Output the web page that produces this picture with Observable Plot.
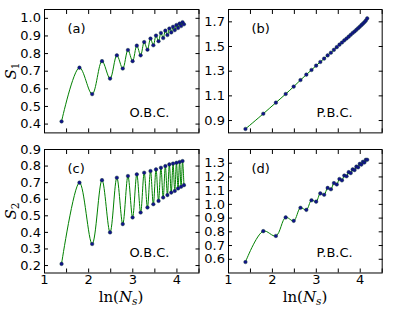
<!DOCTYPE html>
<html><head><meta charset="utf-8">
<script src="https://cdn.jsdelivr.net/npm/d3@7"></script>
<script src="https://cdn.jsdelivr.net/npm/@observablehq/plot@0.6"></script>
<style>
body{margin:0;background:#fff;}
#fig{position:relative;width:415px;height:312px;overflow:hidden;background:#fff;font-family:"DejaVu Sans",sans-serif;}
#fig svg{position:absolute;overflow:visible;}
.ylab{position:absolute;font-family:"DejaVu Serif",serif;font-size:15px;transform:translate(-50%,-50%) rotate(-90deg);white-space:nowrap;line-height:1;}
.xlab{position:absolute;font-family:"DejaVu Serif",serif;font-size:15px;transform:translate(-50%,-50%);white-space:nowrap;line-height:1;}
sub{font-size:70%;vertical-align:-0.25em;}
</style></head><body><div id="fig"></div>
<script>
// system sizes N_s (x axis is ln(N_s))
const Ns = [4,6,8,10,12,14,16,18,20,22,24,26,28,30,32,34,36,38,40,42,44,46,48,50,52,54,56,58,60,62,64];
// (a) S1, O.B.C.
const s1OBC = [0.415,0.720,0.570,0.757,0.658,0.790,0.715,0.820,0.757,0.845,0.790,0.865,0.822,0.885,0.847,0.902,0.870,0.917,0.888,0.930,0.905,0.942,0.920,0.952,0.933,0.962,0.945,0.970,0.956,0.978,0.966];
// (b) S1, P.B.C.
const s1PBC = [0.832,0.955,1.045,1.115,1.175,1.228,1.272,1.310,1.345,1.375,1.402,1.428,1.450,1.473,1.495,1.515,1.532,1.550,1.565,1.580,1.595,1.610,1.622,1.635,1.648,1.660,1.673,1.685,1.697,1.710,1.728];
// (c) S2, O.B.C.
const s2OBC = [0.210,0.700,0.330,0.715,0.400,0.730,0.450,0.740,0.490,0.750,0.520,0.760,0.550,0.770,0.570,0.780,0.590,0.790,0.610,0.800,0.625,0.810,0.640,0.815,0.650,0.820,0.665,0.825,0.675,0.830,0.685];
// (d) S2, P.B.C.
const s2PBC = [0.580,0.805,0.770,0.905,0.880,0.975,0.960,1.030,1.020,1.080,1.070,1.120,1.110,1.155,1.145,1.185,1.175,1.210,1.205,1.235,1.228,1.255,1.250,1.275,1.270,1.295,1.290,1.310,1.305,1.325,1.325];

const xTicks = [1,1.5,2,2.5,3,3.5,4,4.5];
const xTickLabels = [1,2,3,4];
const yTicksA = [0.4,0.5,0.6,0.7,0.8,0.9,1.0];
const yTicksB = [0.9,1.1,1.3,1.5,1.7];
const yTicksC = [0.2,0.3,0.4,0.5,0.6,0.7,0.8,0.9];
const yTicksD = [0.6,0.7,0.8,0.9,1.0,1.1,1.2,1.3];

const fig = document.getElementById("fig");
const fmt1 = d3.format(".1f");

function panel({fl, ft, fw, fh, yDomain, yTicks, showX, values, tag, bc}) {
  const data = Ns.map((n, i) => ({x: Math.log(n), y: values[i]}));
  const mL = 40, mR = 10, mT = 10, mB = 25;
  const xfmt = d => (showX && xTickLabels.includes(d)) ? String(d) : null;
  const p = Plot.plot({
    width: fw + mL + mR, height: fh + mT + mB,
    marginLeft: mL, marginRight: mR, marginTop: mT, marginBottom: mB,
    style: {fontFamily: "DejaVu Sans", fontSize: "13px", background: "transparent", overflow: "visible", color: "#000"},
    x: {domain: [1, 4.5]},
    y: {domain: yDomain},
    marks: [
      Plot.line(data, {x: "x", y: "y", stroke: "#008000", strokeWidth: 1, curve: "catmull-rom"}),
      Plot.dot(data, {x: "x", y: "y", r: 1.8, fill: "#12128c", stroke: "#0a3a2a", strokeWidth: 0.4}),
      Plot.axisX({anchor: "bottom", ticks: xTicks, tickSize: -4, tickPadding: 6, tickFormat: xfmt, label: null, fontSize: 13}),
      Plot.axisX({anchor: "top", ticks: xTicks, tickSize: -4, tickFormat: () => null, label: null}),
      Plot.axisY({anchor: "left", ticks: yTicks, tickSize: -4, tickPadding: 7.5, tickFormat: fmt1, label: null, fontSize: 13}),
      Plot.axisY({anchor: "right", ticks: yTicks, tickSize: -4, tickFormat: () => null, label: null}),
      Plot.frame({stroke: "#000", strokeWidth: 1}),
      Plot.text([tag], {frameAnchor: "top-left", dx: 23, dy: 14, textAnchor: "start", fontSize: 13, fill: "#000"}),
      Plot.text([bc], {frameAnchor: "bottom-right", dx: -29.5, dy: -16, textAnchor: "end", fontSize: 13, fill: "#000"})
    ]
  });
  p.style.left = (fl - mL) + "px";
  p.style.top = (ft - mT) + "px";
  fig.appendChild(p);
}

panel({fl: 44, ft: 9.3, fw: 154.5, fh: 123.4, yDomain: [0.35, 1.05], yTicks: yTicksA, showX: false, values: s1OBC, tag: "(a)", bc: "O.B.C."});
panel({fl: 228, ft: 9.3, fw: 153.7, fh: 123.4, yDomain: [0.8, 1.8], yTicks: yTicksB, showX: false, values: s1PBC, tag: "(b)", bc: "P.B.C."});
panel({fl: 44, ft: 149, fw: 154.5, fh: 123.5, yDomain: [0.155, 0.9], yTicks: yTicksC, showX: true, values: s2OBC, tag: "(c)", bc: "O.B.C."});
panel({fl: 228, ft: 149, fw: 153.7, fh: 123.5, yDomain: [0.5, 1.4], yTicks: yTicksD, showX: true, values: s2PBC, tag: "(d)", bc: "P.B.C."});

function addLabel(cls, html, x, y) {
  const d = document.createElement("div");
  d.className = cls;
  d.innerHTML = html;
  d.style.left = x + "px";
  d.style.top = y + "px";
  fig.appendChild(d);
}
addLabel("ylab", "<i>S</i><sub>1</sub>", 12, 71);
addLabel("ylab", "<i>S</i><sub>2</sub>", 12, 211);
addLabel("xlab", "ln(<i>N</i><sub><i>s</i></sub>)", 121, 298);
addLabel("xlab", "ln(<i>N</i><sub><i>s</i></sub>)", 305, 298);
</script></body></html>
